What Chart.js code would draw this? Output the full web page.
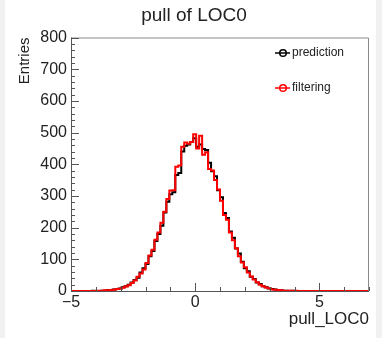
<!DOCTYPE html>
<html>
<head>
<meta charset="utf-8">
<script src="https://cdn.jsdelivr.net/npm/chart.js@4/dist/chart.umd.min.js"></script>
<style>
  html, body { margin: 0; padding: 0; background: #f1f1f1; }
  #wrap { position: absolute; left: 5px; top: 0; width: 371px; height: 338px; background: #fff; }
</style>
</head>
<body>
<div id="wrap"><canvas id="c" width="371" height="338"></canvas></div>
<script>
// histogram binning (pull_LOC0)
const xMin = -5, xMax = 7, nBins = 100;
const xTicks = [-5, 0, 5];
const yMin = 0, yMax = 800, yStep = 100;
const seriesNames = ["prediction", "filtering"];

// bin contents
const prediction = [
  0, 0, 0, 0, 0, 0, 0, 1, 0, 0,
  1, 1, 2, 3, 5, 6, 8, 12, 15, 20,
  27, 35, 42, 58, 72, 85, 110, 126, 158, 180,
  206, 248, 282, 305, 312, 366, 372, 440, 458, 462,
  470, 482, 455, 462, 448, 445, 405, 378, 362, 318,
  296, 246, 230, 188, 168, 134, 118, 92, 72, 62,
  45, 38, 27, 22, 15, 12, 8, 6, 5, 3,
  2, 1, 1, 0, 1, 0, 0, 0, 0, 0,
  0, 0, 0, 0, 0, 0, 0, 0, 0, 0,
  0, 0, 0, 0, 0, 0, 0, 0, 0, 0
];
const filtering = [
  0, 0, 0, 0, 0, 0, 0, 0, 0, 1,
  1, 2, 2, 3, 4, 6, 7, 10, 14, 18,
  25, 33, 45, 55, 68, 88, 112, 130, 162, 185,
  215, 250, 290, 317, 318, 392, 396, 455, 469, 465,
  470, 495, 450, 490, 430, 438, 385, 380, 350, 320,
  285, 240, 225, 185, 160, 135, 110, 90, 75, 58,
  46, 36, 28, 20, 15, 11, 9, 5, 4, 3,
  2, 1, 1, 1, 0, 1, 0, 0, 0, 0,
  0, 0, 0, 0, 0, 0, 0, 0, 0, 0,
  0, 0, 0, 0, 0, 0, 0, 0, 0, 0
];

const FONT = "'Liberation Sans', Arial, Helvetica, sans-serif";
const binW = (xMax - xMin) / nBins;

// step points at lower bin edges, plus closing point at xMax
function toSteps(counts) {
  const pts = counts.map((v, i) => ({ x: xMin + i * binW, y: v }));
  pts.push({ x: xMax, y: counts[counts.length - 1] });
  return pts;
}

function minus(v) {
  return v < 0 ? "\u2212" + Math.abs(v) : String(v);
}

// ROOT style frame with inward ticks
const rootFrame = {
  id: "rootFrame",
  afterDatasetsDraw(chart) {
    const { ctx, chartArea: a, scales: { x, y } } = chart;
    ctx.save();
    ctx.lineWidth = 1;
    ctx.strokeStyle = "#8a8a8a";
    ctx.beginPath();
    ctx.moveTo(a.left, a.top + 0.5);
    ctx.lineTo(a.right - 0.5, a.top + 0.5);
    ctx.lineTo(a.right - 0.5, a.bottom);
    ctx.stroke();
    ctx.strokeStyle = "#555";
    ctx.beginPath();
    ctx.moveTo(a.left + 0.5, a.top);
    ctx.lineTo(a.left + 0.5, a.bottom + 0.5);
    ctx.lineTo(a.right, a.bottom + 0.5);
    for (let v = yMin; v <= yMax; v += 20) {
      const py = Math.round(y.getPixelForValue(v)) + 0.5;
      ctx.moveTo(a.left, py);
      ctx.lineTo(a.left + (v % yStep === 0 ? 8 : 4), py);
    }
    for (let v = xMin; v <= xMax; v += 1) {
      const px = Math.round(x.getPixelForValue(v)) + 0.5;
      ctx.moveTo(px, a.bottom);
      ctx.lineTo(px, a.bottom - (v % 5 === 0 ? 8 : 4));
    }
    ctx.stroke();
    ctx.restore();
  },
  afterDraw(chart) {
    const { ctx } = chart;
    ctx.save();
    ctx.fillStyle = "#222";
    ctx.textAlign = "center";
    ctx.textBaseline = "middle";
    ctx.font = "19px " + FONT;
    ctx.fillText("pull of LOC0", 189, 16);

    // legend
    ctx.font = "12px " + FONT;
    ctx.textAlign = "left";
    const rows = [53, 88];
    seriesNames.forEach((name, i) => {
      const ds = chart.data.datasets.find(d => d.label === name);
      const yy = rows[i];
      ctx.strokeStyle = ds.borderColor;
      ctx.lineWidth = 1.5;
      ctx.beginPath();
      ctx.moveTo(270, yy);
      ctx.lineTo(285, yy);
      ctx.stroke();
      ctx.beginPath();
      ctx.arc(278, yy, 3.3, 0, Math.PI * 2);
      ctx.stroke();
      ctx.fillStyle = "#222";
      ctx.fillText(name, 287, yy);
    });
    ctx.restore();
  }
};

new Chart(document.getElementById("c"), {
  type: "line",
  data: {
    datasets: [
      { label: seriesNames[0], data: toSteps(prediction), borderColor: "#000", borderWidth: 2, order: 1 },
      { label: seriesNames[1], data: toSteps(filtering), borderColor: "#ff0000", borderWidth: 2, order: 0 }
    ]
  },
  options: {
    responsive: false,
    animation: false,
    parsing: false,
    layout: { padding: { left: 0, right: 7, top: 37.5, bottom: 0 } },
    elements: {
      line: { stepped: true, tension: 0, fill: false },
      point: { radius: 0, hoverRadius: 0 }
    },
    datasets: { line: { clip: false } },
    plugins: {
      legend: { display: false },
      title: { display: false },
      tooltip: { enabled: false }
    },
    scales: {
      x: {
        type: "linear",
        min: xMin,
        max: xMax,
        grid: { display: false, drawTicks: false },
        border: { display: false },
        afterBuildTicks: s => { s.ticks = xTicks.map(v => ({ value: v })); },
        afterFit: s => { s.height = 47; },
        ticks: {
          color: "#222",
          padding: 2,
          maxRotation: 0,
          font: { family: FONT, size: 16 },
          callback: v => minus(v)
        },
        title: {
          display: true,
          text: "pull_LOC0",
          align: "end",
          color: "#222",
          font: { family: FONT, size: 17 },
          padding: { top: 0, bottom: 8 }
        }
      },
      y: {
        type: "linear",
        min: yMin,
        max: yMax,
        grid: { display: false, drawTicks: false },
        border: { display: false },
        afterFit: s => { s.width = 66; },
        ticks: {
          stepSize: yStep,
          color: "#222",
          padding: 4,
          font: { family: FONT, size: 16 }
        },
        title: {
          display: true,
          text: "Entries",
          align: "end",
          color: "#222",
          font: { family: FONT, size: 15 },
          padding: { top: 11, bottom: 0 }
        }
      }
    }
  },
  plugins: [rootFrame]
});
</script>
</body>
</html>
